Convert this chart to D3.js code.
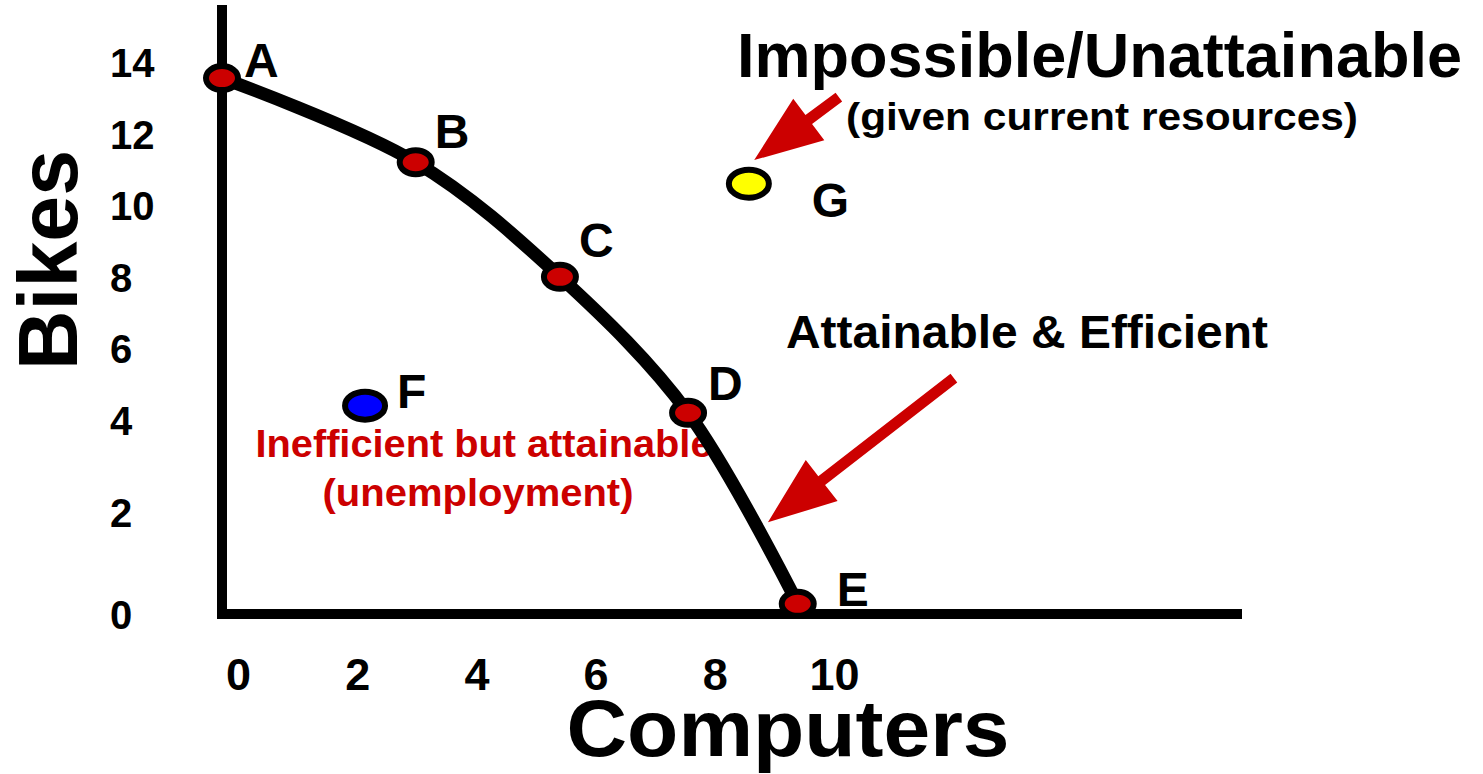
<!DOCTYPE html>
<html>
<head>
<meta charset="utf-8">
<script src="https://cdn.jsdelivr.net/npm/d3@7"></script>
<style>
  body { margin: 0; background: #fff; }
  text { font-family: "Liberation Sans", Arial, sans-serif; font-weight: bold; }
</style>
</head>
<body>
<div class="canva"></div>
<script>
// frontier points
const frontierNames = ["A", "B", "C", "D", "E"];
const frontierComputers = [0, 3.25, 5.67, 7.82, 9.66];
const frontierBikes = [13.55, 11.2, 8.0, 4.2, 0.2];

// points off the frontier
const otherNames = ["F", "G"];
const otherComputers = [2.4, 8.84];
const otherBikes = [4.4, 10.6];

// tick labels
const xTicks = [0, 2, 4, 6, 8, 10];
const yTicks = [0, 2, 4, 6, 8, 10, 12, 14];

// arrows, tail and tip in chart units
const arrowTails = [[10.35, 13.02], [12.28, 5.17]];
const arrowTips = [[8.93, 11.26], [9.16, 1.80]];

const width = 1483, height = 774;
const red = "#cc0000";

const svg = d3.select(".canva").append("svg")
    .attr("width", width)
    .attr("height", height);

// scales (the y axis in the picture is not evenly spaced)
const x = d3.scaleLinear().domain([0, 10]).range([222, 818]);
const y = d3.scaleLinear().domain([0, 2, 4, 14]).range([614, 512, 420, 62]);

// axis lines
svg.append("line")
    .attr("x1", x(0)).attr("x2", x(0))
    .attr("y1", 5).attr("y2", y(0) + 5)
    .attr("stroke", "#000").attr("stroke-width", 10);
svg.append("line")
    .attr("x1", x(0) - 5).attr("x2", 1242)
    .attr("y1", y(0)).attr("y2", y(0))
    .attr("stroke", "#000").attr("stroke-width", 10);

// x tick labels
const xAxis = svg.append("g")
    .attr("transform", `translate(16, ${y(0)})`)
    .call(d3.axisBottom(x).tickValues(xTicks).tickSize(0).tickPadding(45));
xAxis.select(".domain").remove();
xAxis.selectAll("text")
    .attr("dy", "0.68em")
    .style("font-size", "45px")
    .attr("fill", "#000");

// y tick labels (left aligned)
const yAxis = svg.append("g")
    .attr("transform", `translate(${x(0)}, 0)`)
    .call(d3.axisLeft(y).tickValues(yTicks).tickSize(0));
yAxis.select(".domain").remove();
yAxis.selectAll("text")
    .attr("text-anchor", "start")
    .attr("x", 110 - x(0))
    .attr("dy", "0.36em")
    .style("font-size", "40px")
    .attr("fill", "#000");

// axis titles
svg.append("text")
    .attr("x", 788).attr("y", 756)
    .attr("text-anchor", "middle")
    .attr("textLength", 443).attr("lengthAdjust", "spacingAndGlyphs")
    .style("font-size", "80px")
    .text("Computers");

svg.append("text")
    .attr("transform", "translate(77, 260) rotate(-90)")
    .attr("text-anchor", "middle")
    .attr("textLength", 220).attr("lengthAdjust", "spacingAndGlyphs")
    .style("font-size", "83px")
    .text("Bikes");

// annotation texts
svg.append("text")
    .attr("x", 737).attr("y", 77)
    .attr("textLength", 725).attr("lengthAdjust", "spacingAndGlyphs")
    .style("font-size", "63px")
    .text("Impossible/Unattainable");

svg.append("text")
    .attr("x", 846).attr("y", 130)
    .attr("textLength", 512).attr("lengthAdjust", "spacingAndGlyphs")
    .style("font-size", "39px")
    .text("(given current resources)");

svg.append("text")
    .attr("x", 786).attr("y", 348)
    .attr("textLength", 482).attr("lengthAdjust", "spacingAndGlyphs")
    .style("font-size", "46px")
    .text("Attainable & Efficient");

svg.append("text")
    .attr("x", 484).attr("y", 457)
    .attr("text-anchor", "middle")
    .attr("textLength", 457).attr("lengthAdjust", "spacingAndGlyphs")
    .attr("fill", red)
    .style("font-size", "38px")
    .text("Inefficient but attainable");

svg.append("text")
    .attr("x", 478).attr("y", 506)
    .attr("text-anchor", "middle")
    .attr("textLength", 311).attr("lengthAdjust", "spacingAndGlyphs")
    .attr("fill", red)
    .style("font-size", "38px")
    .text("(unemployment)");

// arrows
function arrowPath(tail, tip) {
    const x0 = x(tail[0]), y0 = y(tail[1]);
    const x1 = x(tip[0]), y1 = y(tip[1]);
    const len = Math.hypot(x1 - x0, y1 - y0);
    const ux = (x1 - x0) / len, uy = (y1 - y0) / len;
    const nx = -uy, ny = ux;
    const shaft = 5.5, head = 26, headLen = 68;
    const bx = x1 - ux * headLen, by = y1 - uy * headLen;
    const pts = [
        [x0 + nx * shaft, y0 + ny * shaft],
        [bx + nx * shaft, by + ny * shaft],
        [bx + nx * head, by + ny * head],
        [x1, y1],
        [bx - nx * head, by - ny * head],
        [bx - nx * shaft, by - ny * shaft],
        [x0 - nx * shaft, y0 - ny * shaft]
    ];
    return "M" + pts.join("L") + "Z";
}

svg.selectAll(".arrow")
    .data(d3.range(arrowTails.length))
    .enter()
    .append("path")
    .attr("class", "arrow")
    .attr("d", i => arrowPath(arrowTails[i], arrowTips[i]))
    .attr("fill", red);

// frontier curve
const frontier = frontierNames.map((n, i) => ({
    name: n, c: frontierComputers[i], b: frontierBikes[i]
}));
const line = d3.line()
    .x(d => x(d.c))
    .y(d => y(d.b))
    .curve(d3.curveCatmullRom.alpha(0.5));

svg.append("path")
    .datum(frontier)
    .attr("d", line)
    .attr("fill", "none")
    .attr("stroke", "#000")
    .attr("stroke-width", 13)
    .attr("stroke-linecap", "round");

// frontier dots
svg.selectAll(".dot")
    .data(frontier)
    .enter()
    .append("ellipse")
    .attr("class", "dot")
    .attr("cx", d => x(d.c))
    .attr("cy", d => y(d.b))
    .attr("rx", 16)
    .attr("ry", 12)
    .attr("fill", red)
    .attr("stroke", "#000")
    .attr("stroke-width", 6);

// other points
const others = otherNames.map((n, i) => ({
    name: n, c: otherComputers[i], b: otherBikes[i]
}));
const otherFill = { F: "#0000ff", G: "#ffff00" };

svg.selectAll(".other")
    .data(others)
    .enter()
    .append("ellipse")
    .attr("class", "other")
    .attr("cx", d => x(d.c))
    .attr("cy", d => y(d.b))
    .attr("rx", 20)
    .attr("ry", 14)
    .attr("fill", d => otherFill[d.name])
    .attr("stroke", "#000")
    .attr("stroke-width", 6);

// point letters
const labelOffset = {
    A: [22, -1], B: [19, -14], C: [19, -20], D: [20, -13],
    E: [39, 2], F: [32, 2], G: [63, 33]
};

svg.selectAll(".pname")
    .data(frontier.concat(others))
    .enter()
    .append("text")
    .attr("class", "pname")
    .attr("x", d => x(d.c) + labelOffset[d.name][0])
    .attr("y", d => y(d.b) + labelOffset[d.name][1])
    .style("font-size", "48px")
    .text(d => d.name);
</script>
</body>
</html>
